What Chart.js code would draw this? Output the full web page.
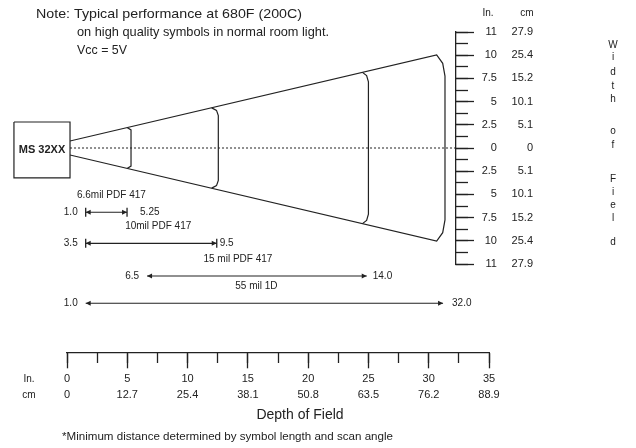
<!DOCTYPE html>
<html lang="en">
<head>
<meta charset="UTF-8">
<title>MS 32XX Depth of Field</title>
<script src="https://cdn.jsdelivr.net/npm/chart.js"></script>
<style>
  html, body { margin: 0; padding: 0; background: #fff; }
</style>
</head>
<body>
<canvas id="chart" width="636" height="448"></canvas>
<script>
// depth of field axis (inches / cm)
const depthIn = ['0', '5', '10', '15', '20', '25', '30', '35'];
const depthCm = ['0', '12.7', '25.4', '38.1', '50.8', '63.5', '76.2', '88.9'];
// width of field axis, top to bottom
const widthIn = ['11', '10', '7.5', '5', '2.5', '0', '2.5', '5', '7.5', '10', '11'];
const widthCm = ['27.9', '25.4', '15.2', '10.1', '5.1', '0', '5.1', '10.1', '15.2', '25.4', '27.9'];

// scan cone outline (x = depth in inches, y = width axis steps)
const coneDepth = [0.25, 30.66, 31.16, 31.35, 31.35, 31.16, 30.66, 0.25];
const coneWidth = [0.30, 4.01, 3.65, 3.10, -3.10, -3.65, -4.01, -0.30];
// ends of the shorter ranges inside the cone
const arcDepth = [
  [4.98, 5.31, 5.31, 4.98],
  [12.0, 12.4, 12.55, 12.55, 12.4, 12.0],
  [24.5, 24.85, 25.0, 25.0, 24.85, 24.5]
];
const arcWidth = [
  [0.88, 0.78, -0.78, -0.88],
  [1.73, 1.62, 1.40, -1.40, -1.62, -1.73],
  [3.26, 3.12, 2.85, -2.85, -3.12, -3.26]
];
// scanner box
const boxDepth = [-4.40, 0.25, 0.25, -4.40, -4.40];
const boxWidth = [1.12, 1.12, -1.29, -1.29, 1.12];
const centerDepth = [0.25, 32.27];

// working ranges per symbol
const rangeName = ['6.6mil PDF 417', '10mil PDF 417', '15 mil PDF 417', '55 mil 1D'];
const rangeFrom = ['1.0', '3.5', '6.5', '1.0'];
const rangeTo = ['5.25', '9.5', '14.0', '32.0'];
const rangeStart = [1.55, 1.55, 6.64, 1.55];
const rangeEnd = [4.98, 12.42, 24.86, 31.19];
const rangeRow = [-2.77, -4.11, -5.52, -6.69];

const ink = '#222';
const FONT = 'Liberation Sans, Arial, sans-serif';
const AXIS_AT = 32.27;        // depth where the width axis stands
const DEPTH_AXIS_AT = -8.84;  // width step where the depth axis runs

function pts(xs, ys) {
  return xs.map((x, i) => ({x: x, y: ys[i]}));
}

function lineSet(data, extra) {
  return Object.assign({
    data: data, showLine: true, borderColor: ink, borderWidth: 1.2,
    pointRadius: 0, fill: false, clip: false, xAxisID: 'x', yAxisID: 'y'
  }, extra || {});
}

const datasets = [lineSet(pts(coneDepth, coneWidth))];
arcDepth.forEach((d, i) => datasets.push(lineSet(pts(d, arcWidth[i]))));
datasets.push(lineSet(pts(boxDepth, boxWidth)));
datasets.push(lineSet(pts(centerDepth, [0, 0]), {borderDash: [2, 2], borderWidth: 1}));
rangeStart.forEach((s, i) => datasets.push(lineSet(pts([s, rangeEnd[i]], [rangeRow[i], rangeRow[i]]), {
  borderWidth: 1.1, pointRadius: 4.5, pointStyle: 'line', pointRotation: 90,
  pointBorderWidth: 1.3, pointBorderColor: ink
})));

// labels and bits that are not marks
const notes = {
  id: 'notes',
  afterDraw(chart) {
    const ctx = chart.ctx;
    const xs = chart.scales.x, ys = chart.scales.y;
    ctx.save();
    ctx.fillStyle = ink;
    ctx.textBaseline = 'middle';

    function text(s, px, py, size, align, width, weight) {
      ctx.font = (weight || 'normal') + ' ' + size + 'px ' + FONT;
      ctx.textAlign = align || 'left';
      if (width) {
        const w = ctx.measureText(s).width;
        ctx.save();
        ctx.translate(px, py);
        ctx.scale(width / w, 1);
        ctx.fillText(s, 0, 0);
        ctx.restore();
      } else {
        ctx.fillText(s, px, py);
      }
    }

    text('Note: Typical performance at 680F (200C)', 36, 14, 13, 'left', 266);
    text('on high quality symbols in normal room light.', 77, 32, 13, 'left', 252);
    text('Vcc = 5V', 77, 50, 13, 'left', 50);

    text('In.', 488, 13, 10, 'center');
    text('cm', 527, 13, 10, 'center');

    const axisY = ys.getPixelForValue(DEPTH_AXIS_AT);
    text('In.', 29, axisY + 26, 10, 'center');
    text('cm', 29, axisY + 42, 10, 'center');
    text('Depth of Field', 300, axisY + 62, 14, 'center');
    text('*Minimum distance determined by symbol length and scan angle', 62, axisY + 84, 10, 'left', 331);

    const letters = ['W', 'i', 'd', 't', 'h', 'o', 'f', 'F', 'i', 'e', 'l', 'd'];
    const letterY = [45, 57, 72, 86, 99, 131, 145, 179, 192, 205, 218, 242];
    letters.forEach((c, i) => text(c, 613, letterY[i], 10, 'center'));

    // scanner name
    const bx = xs.getPixelForValue((boxDepth[0] + boxDepth[1]) / 2);
    const by = ys.getPixelForValue((boxWidth[0] + boxWidth[2]) / 2);
    text('MS 32XX', bx, by, 11, 'center', null, 'bold');

    // range bars: arrow heads and labels
    const titleShift = [5, 7, -19, -8];
    const endGap = [13, 3, 6, 9];
    rangeName.forEach((name, i) => {
      const x0 = xs.getPixelForValue(rangeStart[i]);
      const x1 = xs.getPixelForValue(rangeEnd[i]);
      const yy = ys.getPixelForValue(rangeRow[i]);
      ctx.beginPath();
      ctx.moveTo(x0, yy); ctx.lineTo(x0 + 5, yy - 2.5); ctx.lineTo(x0 + 5, yy + 2.5); ctx.closePath();
      ctx.moveTo(x1, yy); ctx.lineTo(x1 - 5, yy - 2.5); ctx.lineTo(x1 - 5, yy + 2.5); ctx.closePath();
      ctx.fill();
      text(name, (x0 + x1) / 2 + titleShift[i], yy - 17, 10, 'center');
      text(rangeFrom[i], x0 - 8, yy, 10, 'right');
      text(rangeTo[i], x1 + endGap[i], yy, 10, 'left');
    });
    ctx.restore();
  }
};

const tickFont = {family: FONT, size: 11};

new Chart(document.getElementById('chart'), {
  type: 'scatter',
  data: {datasets: datasets},
  options: {
    responsive: false,
    animation: false,
    layout: {padding: {left: 67, right: 147, top: 32, bottom: 184}},
    plugins: {legend: {display: false}, tooltip: {enabled: false}},
    scales: {
      x: {
        type: 'linear', axis: 'x', position: {y: DEPTH_AXIS_AT}, min: 0, max: 35,
        grid: {drawOnChartArea: false, tickLength: 15, tickColor: ink, tickWidth: 1.3},
        border: {display: true, color: ink, width: 1.3},
        ticks: {
          stepSize: 5, padding: 3, color: ink, autoSkip: false, maxRotation: 0,
          font: {family: FONT, size: 11, lineHeight: 1.45},
          callback: v => [depthIn[Math.round(v / 5)], depthCm[Math.round(v / 5)]]
        }
      },
      xMinor: {
        type: 'linear', axis: 'x', position: {y: DEPTH_AXIS_AT}, min: 0, max: 35,
        grid: {drawOnChartArea: false, tickLength: 10, tickColor: ink, tickWidth: 1.3},
        border: {display: false},
        ticks: {stepSize: 2.5, display: false}
      },
      y: {type: 'linear', display: false, min: -5, max: 5},
      yMajor: {
        type: 'linear', axis: 'y', position: {x: AXIS_AT}, min: -5, max: 5,
        grid: {drawOnChartArea: false, tickLength: -19, tickColor: ink, tickWidth: 1.3},
        border: {display: true, color: ink, width: 1.3},
        ticks: {stepSize: 1, display: false}
      },
      yMinor: {
        type: 'linear', axis: 'y', position: {x: AXIS_AT}, min: -5, max: 5,
        grid: {drawOnChartArea: false, tickLength: -12, tickColor: ink, tickWidth: 1.3},
        border: {display: false},
        ticks: {stepSize: 0.5, display: false}
      },
      yIn: {
        type: 'linear', axis: 'y', position: {x: 35.66}, min: -5, max: 5,
        grid: {display: false}, border: {display: false},
        ticks: {stepSize: 1, autoSkip: false, color: ink, font: tickFont,
                callback: v => widthIn[5 - Math.round(v)]}
      },
      yCm: {
        type: 'linear', axis: 'y', position: {x: 38.65}, min: -5, max: 5,
        grid: {display: false}, border: {display: false},
        ticks: {stepSize: 1, autoSkip: false, color: ink, font: tickFont,
                callback: v => widthCm[5 - Math.round(v)]}
      }
    }
  },
  plugins: [notes]
});
</script>
</body>
</html>
